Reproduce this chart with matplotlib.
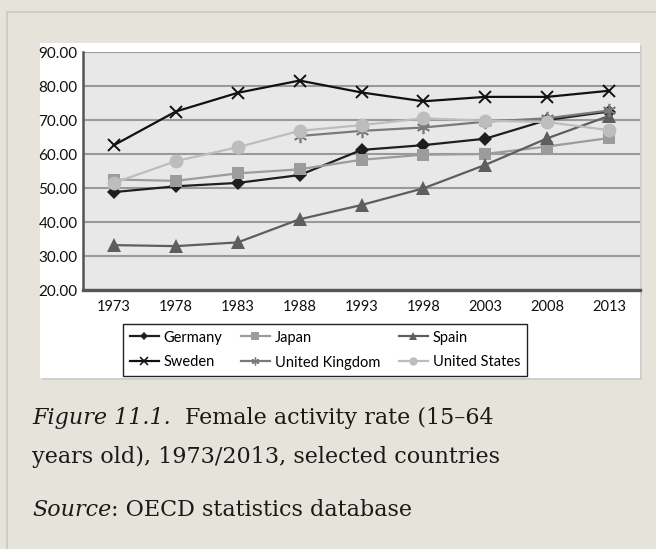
import numpy as np
import matplotlib.pyplot as plt
from matplotlib.patches import Rectangle
from matplotlib.lines import Line2D

years = [1973, 1978, 1983, 1988, 1993, 1998, 2003, 2008, 2013]
germany = [48.8, 50.5, 51.5, 53.8, 61.2, 62.6, 64.5, 70.0, 72.5]
japan = [52.5, 52.1, 54.3, 55.5, 58.3, 59.8, 60.0, 62.2, 64.7]
spain = [33.2, 32.9, 34.0, 40.8, 45.0, 49.9, 56.8, 64.6, 71.2]
sweden = [62.6, 72.5, 78.0, 81.6, 78.1, 75.5, 76.8, 76.8, 78.6]
uk = [np.nan, np.nan, np.nan, 65.3, 66.8, 67.8, 69.5, 70.5, 72.8]
us = [51.5, 57.9, 62.0, 66.8, 68.5, 70.5, 69.8, 69.4, 67.0]

names = ['Germany', 'Japan', 'Spain', 'Sweden', 'United Kingdom', 'United States']
values = [germany, japan, spain, sweden, uk, us]
styles = [
    dict(color='#1e1e1e', marker='D', ms=7.5, mew=0),
    dict(color='#9c9c9c', marker='s', ms=8.5, mew=0),
    dict(color='#5e5e5e', marker='^', ms=9.5, mew=0),
    dict(color='#111111', marker='x', ms=9, mew=1.4),
    dict(color='#7a7a7a', marker=(6, 2, 0), ms=9.5, mew=1.2),
    dict(color='#bdbdbd', marker='o', ms=10, mew=0),
]

W, H = 656, 549
fig = plt.figure(figsize=(W / 100, H / 100), dpi=100)
fig.patch.set_facecolor('#e6e3da')

def px_rect(x0, y0, x1, y1, **kw):
    fig.patches.append(Rectangle((x0 / W, 1 - y1 / H), (x1 - x0) / W, (y1 - y0) / H,
                                 transform=fig.transFigure, figure=fig, zorder=-5, **kw))

# outer frame lines and white picture area
px_rect(6, 11, 656, 13, facecolor='#cccccc', edgecolor='none')
px_rect(6, 11, 8, 549, facecolor='#cccccc', edgecolor='none')
px_rect(42, 45, 642, 380, facecolor='#cfcfcf', edgecolor='none')
px_rect(40, 43, 640, 378, facecolor='white', edgecolor='none')

ax = fig.add_axes([83 / W, 1 - 290 / H, (640 - 83) / W, (290 - 52) / H])
ax.set_facecolor('#e8e8e8')
for name, vals, st in zip(names, values, styles):
    ax.plot(years, vals, color=st['color'], lw=1.6, marker=st['marker'],
            markersize=st['ms'], markeredgewidth=st['mew'],
            markeredgecolor=st['color'], label=name)

ax.set_xlim(1970.5, 2015.5)
ax.set_ylim(20, 90)
ax.set_xticks(years)
ax.set_yticks(range(20, 91, 10))
ax.set_yticklabels([f'{v:.2f}' for v in range(20, 91, 10)])
ax.grid(axis='y', color='#9a9a9a', lw=1.5)
ax.set_axisbelow(True)
for s in ['top', 'right']:
    ax.spines[s].set_visible(False)
ax.spines['left'].set_color('#555555')
ax.spines['left'].set_linewidth(1.8)
ax.spines['bottom'].set_color('#555555')
ax.spines['bottom'].set_linewidth(2.4)
ax.tick_params(length=0, labelcolor='#111111')
ax.tick_params(axis='x', pad=7, labelsize=10.5)
ax.tick_params(axis='y', pad=4, labelsize=11)
for lab in ax.get_xticklabels() + ax.get_yticklabels():
    lab.set_family('Lato')

# legend: rows Germany/Japan/Spain, Sweden/UK/US
handles = []
for name, st in zip(names, styles):
    handles.append(Line2D([], [], color=st['color'], lw=1.6, marker=st['marker'],
                          markersize=st['ms'] * 0.6, markeredgewidth=st['mew'] * 0.8,
                          markeredgecolor=st['color'], label=name))
order = [0, 3, 1, 4, 2, 5]
leg = fig.legend([handles[i] for i in order], [names[i] for i in order],
                 ncol=3, loc='upper left', bbox_to_anchor=(123 / W, 1 - 324 / H),
                 frameon=True, fancybox=False, edgecolor='#222222', framealpha=1,
                 prop={'family': 'Lato', 'size': 10.5}, handlelength=2.0,
                 handletextpad=0.35, columnspacing=1.25, borderpad=0.45,
                 labelspacing=0.75, borderaxespad=0)
leg.get_frame().set_linewidth(1.0)

# caption
fig.canvas.draw()
r = fig.canvas.get_renderer()
cap = dict(family='DejaVu Serif', fontsize=16, color='#1a1a1a', va='baseline')
t = fig.text(32 / W, 1 - 424 / H, 'Figure 11.1.', style='italic', **cap)
bb = t.get_window_extent(r)
fig.text(bb.x1 / W + 14 / W, 1 - 424 / H, 'Female activity rate (15\u201364', **cap)
fig.text(32 / W, 1 - 463 / H, 'years old), 1973/2013, selected countries', **cap)
t = fig.text(32 / W, 1 - 516 / H, 'Source', style='italic', **cap)
bb = t.get_window_extent(r)
fig.text(bb.x1 / W, 1 - 516 / H, ': OECD statistics database', **cap)

fig.savefig('out.png', dpi=100, facecolor=fig.get_facecolor())
